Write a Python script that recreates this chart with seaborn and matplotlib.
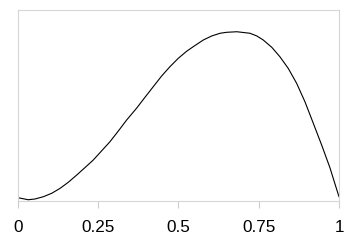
import matplotlib
matplotlib.use("Agg")
import matplotlib.pyplot as plt
import seaborn as sns
import pandas as pd

# values
x_vals = [0.000, 0.033, 0.054, 0.080, 0.106, 0.132, 0.157, 0.184, 0.209, 0.235,
          0.261, 0.287, 0.313, 0.339, 0.370, 0.396, 0.422, 0.448, 0.474, 0.500,
          0.526, 0.552, 0.578, 0.604, 0.630, 0.650, 0.682, 0.723, 0.744, 0.764,
          0.791, 0.816, 0.842, 0.868, 0.894, 0.920, 0.946, 0.972, 0.988, 1.000]
y_vals = [0.016, 0.005, 0.009, 0.021, 0.039, 0.065, 0.096, 0.135, 0.173, 0.213,
          0.261, 0.309, 0.365, 0.423, 0.485, 0.542, 0.598, 0.654, 0.703, 0.747,
          0.784, 0.814, 0.843, 0.864, 0.878, 0.883, 0.886, 0.878, 0.864, 0.843,
          0.804, 0.755, 0.694, 0.616, 0.519, 0.406, 0.292, 0.172, 0.085, 0.021]
tick_pos = [0, 0.25, 0.5, 0.75, 1]
tick_labels = ["0", "0.25", "0.5", "0.75", "1"]

sns.set_theme(style="white")
plt.rcParams['font.family'] = ['Liberation Sans', 'DejaVu Sans']

df = pd.DataFrame({"x": x_vals, "y": y_vals})

fig = plt.figure(figsize=(3.62, 2.44), dpi=100)
ax = fig.add_axes([17.7 / 362, 1 - 200.7 / 244, (339 - 17.7) / 362, (200.7 - 10) / 244])
sns.lineplot(data=df, x="x", y="y", ax=ax, color="black", linewidth=0.8)

ax.set_xlim(0, 1)
ax.set_ylim(0, 1)
ax.set_xticks(tick_pos)
ax.set_xticklabels(tick_labels, fontsize=12.3, color="black")
ax.set_yticks([])
ax.set_xlabel("")
ax.set_ylabel("")
ax.tick_params(axis="x", bottom=True, length=5, width=0.8, color="#cccccc", pad=9)
for s in ["left", "right", "top", "bottom"]:
    ax.spines[s].set_visible(True)
    ax.spines[s].set_color("#d6d6d6")
    ax.spines[s].set_linewidth(0.8)

fig.savefig("out.png", dpi=100)
